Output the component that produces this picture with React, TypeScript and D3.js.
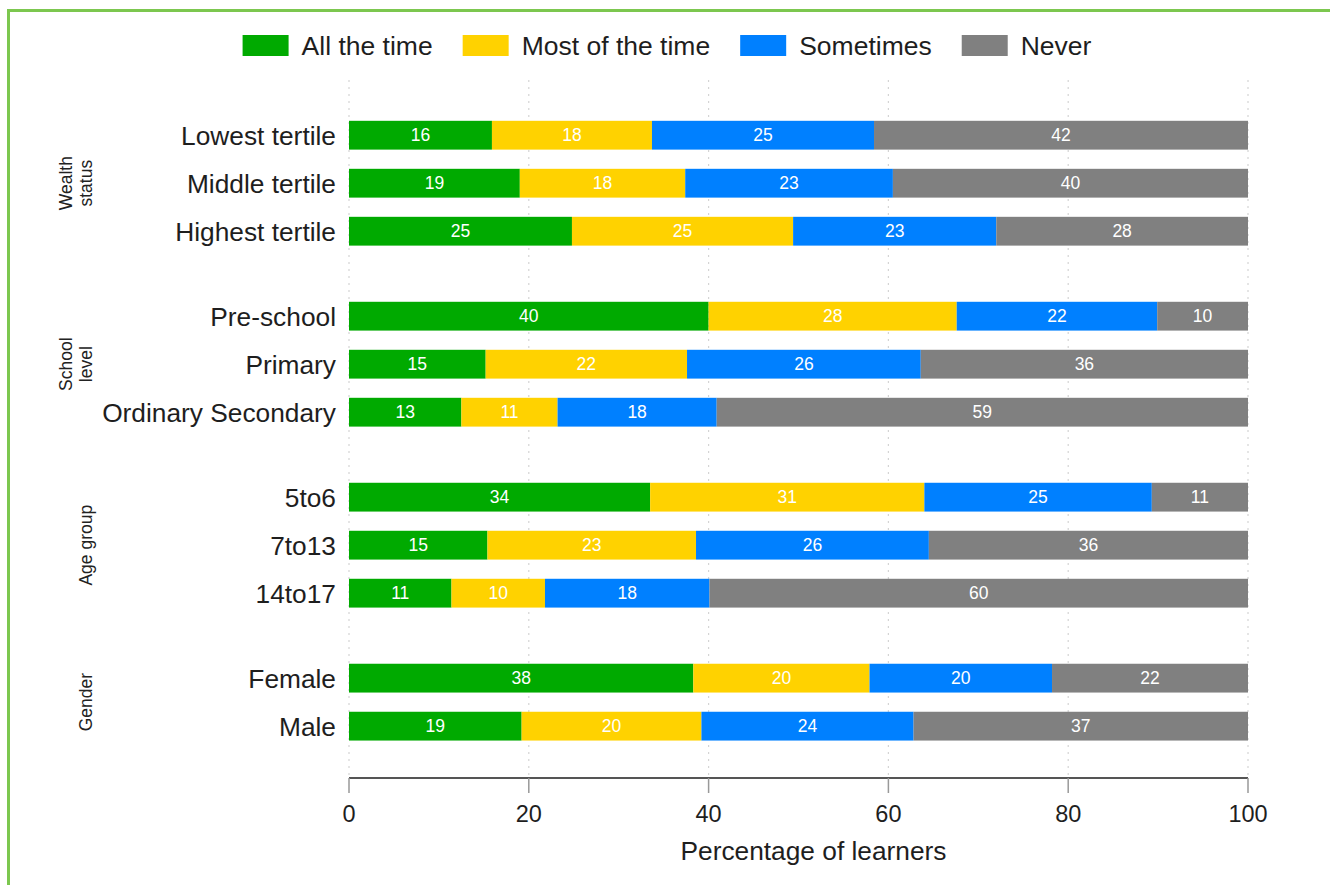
import { useEffect, useRef } from 'react';
import * as d3 from "d3";

const seriesNames = ["All the time", "Most of the time", "Sometimes", "Never"];
const seriesColors = ["#00aa00", "#ffd200", "#0080ff", "#808080"];

const groupLines = [["Wealth", "status"], ["School", "level"], ["Age group"], ["Gender"]];
const rowLabels = ["Lowest tertile", "Middle tertile", "Highest tertile", "Pre-school", "Primary", "Ordinary Secondary", "5to6", "7to13", "14to17", "Female", "Male"];
const rowGroup = [0, 0, 0, 1, 1, 1, 2, 2, 2, 3, 3];

const allTheTime = [15.9, 19.0, 24.8, 40.0, 15.2, 12.5, 33.5, 15.4, 11.4, 38.3, 19.2];
const mostOfTheTime = [17.8, 18.4, 24.6, 27.6, 22.4, 10.7, 30.5, 23.2, 10.4, 19.6, 20.0];
const sometimes = [24.7, 23.1, 22.6, 22.3, 26.0, 17.7, 25.3, 25.9, 18.3, 20.3, 23.6];
const never = [41.6, 39.5, 28.0, 10.1, 36.4, 59.1, 10.7, 35.5, 59.9, 21.8, 37.2];

const xTicks = [0, 20, 40, 60, 80, 100];

const FONT = "'Liberation Sans', Arial, sans-serif";
const GROUP_GAP = 0.77;

const measure = (txt: string, size: number) => {
  const ctx = document.createElement("canvas").getContext("2d")!;
  ctx.font = `${size}px ${FONT}`;
  return ctx.measureText(txt).width;
}

const drawChart = (node: SVGSVGElement) => {
  const svg = d3.select(node);
  svg.selectAll("*").remove();

  // outer frame, only top and left visible
  svg.append("rect")
    .attr("x", 8.5).attr("y", 10.5)
    .attr("width", 1400).attr("height", 1000)
    .attr("fill", "none")
    .attr("stroke", "#7cc74f")
    .attr("stroke-width", 3);

  const slots = rowLabels.map((_, i) => i + rowGroup[i] * GROUP_GAP);
  const lastSlot = slots[slots.length - 1];

  const x = d3.scaleLinear().domain([0, 100]).range([349, 1248]);
  const y = d3.scaleLinear().domain([-1.15, lastSlot + 1.08]).range([80, 778]);
  const pitch = y(1) - y(0);
  const barH = pitch * 0.6;

  // dotted grid
  svg.append("g")
    .selectAll("line")
    .data(xTicks)
    .enter()
    .append("line")
    .attr("x1", d => x(d)).attr("x2", d => x(d))
    .attr("y1", y.range()[0]).attr("y2", y.range()[1])
    .attr("stroke", "#d4d4d4")
    .attr("stroke-width", 1.2)
    .attr("stroke-dasharray", "2,5");

  const table = rowLabels.map((label, i) => ({
    label,
    slot: slots[i],
    values: [allTheTime[i], mostOfTheTime[i], sometimes[i], never[i]],
  }));

  const rows = svg.append("g")
    .selectAll("g")
    .data(table)
    .enter()
    .append("g");

  rows.each(function (row) {
    const g = d3.select(this);
    let start = 0;
    row.values.forEach((v, k) => {
      const x0 = x(start);
      const x1 = x(start + v);
      g.append("rect")
        .attr("x", x0)
        .attr("y", y(row.slot) - barH / 2)
        .attr("width", x1 - x0)
        .attr("height", barH)
        .attr("fill", seriesColors[k]);
      g.append("text")
        .attr("x", (x0 + x1) / 2)
        .attr("y", y(row.slot))
        .attr("dy", "0.35em")
        .attr("text-anchor", "middle")
        .attr("fill", "#ffffff")
        .attr("font-size", 17.5)
        .attr("font-family", FONT)
        .text(Math.round(v));
      start += v;
    });
  });

  // row labels
  svg.append("g")
    .selectAll("text")
    .data(table)
    .enter()
    .append("text")
    .attr("x", 336)
    .attr("y", d => y(d.slot))
    .attr("dy", "0.36em")
    .attr("text-anchor", "end")
    .attr("fill", "#1e1e1e")
    .attr("font-size", 26.3)
    .attr("font-family", FONT)
    .text(d => d.label);

  // group labels (rotated)
  groupLines.forEach((lines, gi) => {
    const idx = rowGroup.map((g, i) => g === gi ? i : -1).filter(i => i >= 0);
    const cy = (y(slots[idx[0]]) + y(slots[idx[idx.length - 1]])) / 2;
    lines.forEach((line, li) => {
      const bx = 92 - (lines.length - 1 - li) * 20;
      svg.append("text")
        .attr("transform", `translate(${bx},${cy}) rotate(-90)`)
        .attr("text-anchor", "middle")
        .attr("fill", "#222")
        .attr("font-size", 17.5)
        .attr("font-family", FONT)
        .text(line);
    });
  });

  // x axis
  const axisY = y.range()[1];
  svg.append("line")
    .attr("x1", x(0)).attr("x2", x(100))
    .attr("y1", axisY).attr("y2", axisY)
    .attr("stroke", "#555")
    .attr("stroke-width", 2);

  const ticks = svg.append("g")
    .selectAll("g")
    .data(xTicks)
    .enter()
    .append("g");
  ticks.append("line")
    .attr("x1", d => x(d)).attr("x2", d => x(d))
    .attr("y1", axisY).attr("y2", axisY + 15)
    .attr("stroke", "#999")
    .attr("stroke-width", 1.5);
  ticks.append("text")
    .attr("x", d => x(d))
    .attr("y", 822)
    .attr("text-anchor", "middle")
    .attr("fill", "#1e1e1e")
    .attr("font-size", 23.5)
    .attr("font-family", FONT)
    .text(d => d);

  svg.append("text")
    .attr("x", (x(0) + x(100)) / 2 + 15)
    .attr("y", 860)
    .attr("text-anchor", "middle")
    .attr("fill", "#1e1e1e")
    .attr("font-size", 26.3)
    .attr("font-family", FONT)
    .text("Percentage of learners");

  // legend
  const legendSize = 26.5;
  const swW = 46, swH = 21, swGap = 13, itemGap = 30;
  const widths = seriesNames.map(n => swW + swGap + measure(n, legendSize));
  const total = d3.sum(widths) + itemGap * (seriesNames.length - 1);
  let lx = 667 - total / 2;
  seriesNames.forEach((name, k) => {
    svg.append("rect")
      .attr("x", lx).attr("y", 35)
      .attr("width", swW).attr("height", swH)
      .attr("fill", seriesColors[k]);
    svg.append("text")
      .attr("x", lx + swW + swGap)
      .attr("y", 45.5)
      .attr("dy", "0.36em")
      .attr("fill", "#1e1e1e")
      .attr("font-size", legendSize)
      .attr("font-family", FONT)
      .text(name);
    lx += widths[k] + itemGap;
  });
}

export default function App() {
  const ref = useRef<SVGSVGElement>(null);
  useEffect(() => {
    if (ref.current) drawChart(ref.current);
  }, []);
  return <svg
    ref={ref}
    width={1330}
    height={885}
    style={{ position: 'absolute', left: 0, top: 0, background: '#ffffff' }}
  />
}
